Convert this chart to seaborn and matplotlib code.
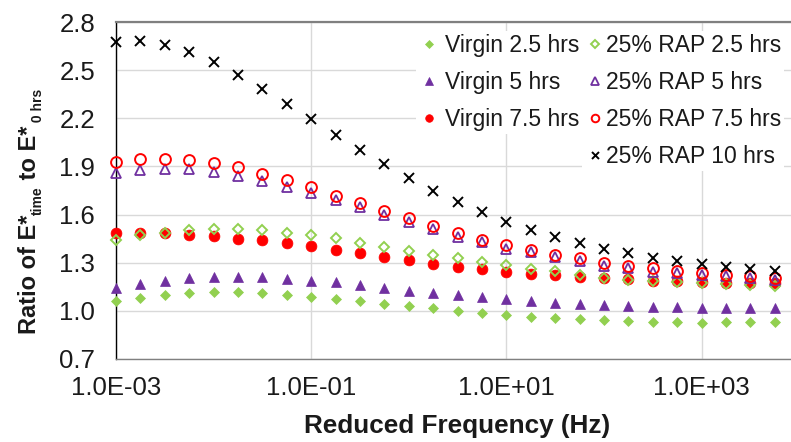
import numpy as np
import pandas as pd
import matplotlib
matplotlib.use("Agg")
import matplotlib.pyplot as plt
import seaborn as sns
from matplotlib.transforms import IdentityTransform

# ---------------- data ----------------
freq = [1.00e-03, 1.78e-03, 3.16e-03, 5.62e-03, 1.00e-02, 1.78e-02, 3.16e-02,
        5.62e-02, 1.00e-01, 1.78e-01, 3.16e-01, 5.62e-01, 1.00e+00, 1.78e+00,
        3.16e+00, 5.62e+00, 1.00e+01, 1.78e+01, 3.16e+01, 5.62e+01, 1.00e+02,
        1.78e+02, 3.16e+02, 5.62e+02, 1.00e+03, 1.78e+03, 3.16e+03, 5.62e+03]

virgin_25 = [1.063, 1.081, 1.096, 1.110, 1.119, 1.119, 1.112, 1.098, 1.087, 1.075,
             1.061, 1.042, 1.029, 1.015, 1.000, 0.984, 0.973, 0.963, 0.957, 0.948,
             0.944, 0.938, 0.932, 0.932, 0.926, 0.928, 0.928, 0.932]
virgin_5 = [1.140, 1.165, 1.185, 1.202, 1.208, 1.208, 1.208, 1.196, 1.187, 1.177,
            1.160, 1.143, 1.125, 1.112, 1.098, 1.084, 1.073, 1.061, 1.046, 1.040,
            1.036, 1.030, 1.025, 1.021, 1.019, 1.019, 1.019, 1.019]
virgin_75 = [1.483, 1.483, 1.483, 1.474, 1.468, 1.449, 1.441, 1.420, 1.403, 1.379,
             1.358, 1.333, 1.316, 1.294, 1.274, 1.260, 1.243, 1.231, 1.221, 1.210,
             1.204, 1.198, 1.187, 1.183, 1.179, 1.175, 1.172, 1.175]
rap_25 = [1.441, 1.470, 1.483, 1.503, 1.507, 1.507, 1.503, 1.483, 1.470, 1.451,
          1.420, 1.399, 1.376, 1.349, 1.329, 1.305, 1.288, 1.262, 1.246, 1.223,
          1.204, 1.195, 1.184, 1.180, 1.174, 1.168, 1.162, 1.156]
rap_5 = [1.857, 1.877, 1.883, 1.881, 1.865, 1.840, 1.810, 1.773, 1.736, 1.690,
         1.647, 1.600, 1.555, 1.508, 1.463, 1.426, 1.388, 1.366, 1.334, 1.313,
         1.281, 1.264, 1.243, 1.233, 1.223, 1.215, 1.207, 1.195]
rap_75 = [1.929, 1.944, 1.944, 1.938, 1.919, 1.894, 1.854, 1.813, 1.771, 1.717,
          1.672, 1.622, 1.576, 1.530, 1.483, 1.441, 1.410, 1.377, 1.348, 1.327,
          1.300, 1.281, 1.264, 1.248, 1.237, 1.223, 1.217, 1.204]
rap_10 = [2.673, 2.680, 2.657, 2.611, 2.549, 2.468, 2.384, 2.287, 2.193, 2.096,
          2.002, 1.915, 1.829, 1.748, 1.681, 1.617, 1.555, 1.503, 1.461, 1.422,
          1.388, 1.360, 1.331, 1.308, 1.291, 1.274, 1.260, 1.249]

series_labels = ["Virgin 2.5 hrs", "Virgin 5 hrs", "Virgin 7.5 hrs",
                 "25% RAP 2.5 hrs", "25% RAP 5 hrs", "25% RAP 7.5 hrs",
                 "25% RAP 10 hrs"]
x_tick_values = [1e-3, 1e-1, 1e1, 1e3]
x_tick_labels = ["1.0E-03", "1.0E-01", "1.0E+01", "1.0E+03"]
y_tick_values = [0.7, 1.0, 1.3, 1.6, 1.9, 2.2, 2.5, 2.8]
y_tick_labels = ["0.7", "1.0", "1.3", "1.6", "1.9", "2.2", "2.5", "2.8"]

# ---------------- styling ----------------
sns.set_style("white")
plt.rcParams["font.family"] = ["Liberation Sans", "DejaVu Sans"]

GREEN = "#92D050"
PURPLE = "#7030A0"
RED = "#FF0000"
BLACK = "#000000"
TXT = "#1a1a1a"

styles = [
    dict(marker="D", markersize=5.6, markerfacecolor=GREEN, markeredgecolor=GREEN, markeredgewidth=0.5),
    dict(marker="^", markersize=7.8, markerfacecolor=PURPLE, markeredgecolor=PURPLE, markeredgewidth=0.5),
    dict(marker="o", markersize=7.8, markerfacecolor=RED, markeredgecolor=RED, markeredgewidth=0.5),
    dict(marker="D", markersize=5.4, markerfacecolor="none", markeredgecolor=GREEN, markeredgewidth=1.4),
    dict(marker="^", markersize=7.4, markerfacecolor="none", markeredgecolor=PURPLE, markeredgewidth=1.3),
    dict(marker="o", markersize=7.8, markerfacecolor="none", markeredgecolor=RED, markeredgewidth=1.4),
    dict(marker="x", markersize=7.2, markerfacecolor="none", markeredgecolor=BLACK, markeredgewidth=1.4),
]
colors = [GREEN, PURPLE, RED, GREEN, PURPLE, RED, BLACK]
all_series = [virgin_25, virgin_5, virgin_75, rap_25, rap_5, rap_75, rap_10]

W, H = 791, 442
fig = plt.figure(figsize=(W / 100, H / 100), dpi=100)
ax = fig.add_axes([116 / W, 1 - 359 / H, 1 - 116 / W, (359 - 22) / H])
ax.set_xscale("log")

for vals, lab, st, col in zip(all_series, series_labels, styles, colors):
    df = pd.DataFrame({"freq": freq, "ratio": vals})
    sns.lineplot(data=df, x="freq", y="ratio", ax=ax, label=lab, color=col,
                 linestyle="", estimator=None, errorbar=None, sort=False,
                 clip_on=False, zorder=3, **st)

ax.set_xlim(1e-3, 10 ** 3.916)
ax.set_ylim(0.7, 2.8)
ax.set_xticks(x_tick_values)
ax.set_xticklabels(x_tick_labels)
ax.xaxis.set_minor_locator(matplotlib.ticker.NullLocator())
ax.set_yticks(y_tick_values)
ax.set_yticklabels(y_tick_labels)
ax.tick_params(axis="x", length=0, pad=12, labelsize=18.5, labelcolor=TXT)
ax.tick_params(axis="y", length=0, pad=15, labelsize=18.5, labelcolor=TXT)

ax.grid(True, which="major", color="#D9D9D9", linewidth=1.0, zorder=0)
ax.set_axisbelow(True)
ax.spines["left"].set_color("#000000")
ax.spines["left"].set_linewidth(1.0)
ax.spines["bottom"].set_color("#808080")
ax.spines["bottom"].set_linewidth(1.0)
ax.spines["top"].set_color("#808080")
ax.spines["top"].set_linewidth(1.6)
ax.spines["right"].set_visible(False)

ax.set_ylabel("")
ax.set_xlabel("Reduced Frequency (Hz)", fontsize=18.8, fontweight="bold", color=TXT)
ax.xaxis.set_label_coords((457 - 116) / (W - 116), (359 - 414) / (359 - 22))

# ---------------- legends (two blocks) ----------------
handles, labels = ax.get_legend_handles_labels()
leg_kw = dict(fontsize=16.5, frameon=True, framealpha=1.0, edgecolor="none",
              facecolor="white", fancybox=False, borderpad=0.15, handlelength=0.8,
              labelspacing=0.6, markerscale=0.7,
              borderaxespad=0.0, loc="upper left", bbox_transform=fig.transFigure,
              labelcolor=TXT)
leg1 = ax.legend(handles[:3], labels[:3], bbox_to_anchor=(416 / W, 1 - 31 / H),
                 handletextpad=0.3, **leg_kw)
ax.add_artist(leg1)
leg2 = ax.legend(handles[3:], labels[3:], bbox_to_anchor=(582 / W, 1 - 31 / H),
                 handletextpad=0.08, **leg_kw)

# ---------------- y label with small subscripts ----------------
renderer = fig.canvas.get_renderer()
pieces = [("Ratio of E*", 17, 0), ("time", 10, 6), (" to E*", 17, 0), (" 0 hrs", 10, 6)]
base_x = 36
ypos = H - 334
for txt, size, dx in pieces:
    t = fig.text(base_x + dx, ypos, txt, rotation=90, rotation_mode="anchor",
                 ha="left", va="baseline", fontsize=size, fontweight="bold",
                 color=TXT, transform=IdentityTransform())
    bb = t.get_window_extent(renderer=renderer)
    ypos += bb.height

fig.savefig("out.png", dpi=100)
